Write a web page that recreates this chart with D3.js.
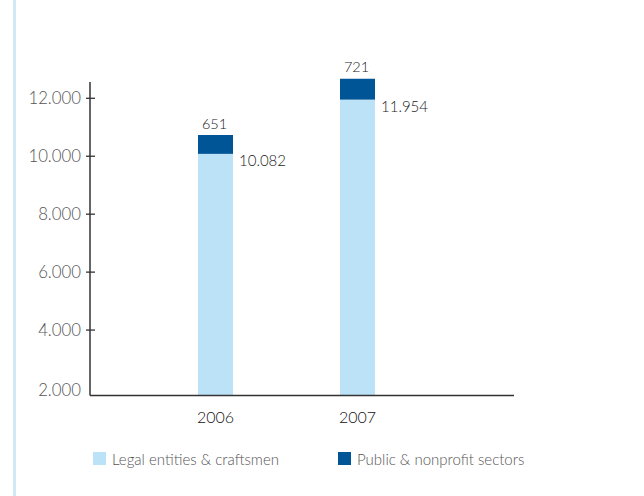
<!DOCTYPE html>
<html>
<head>
<meta charset="utf-8">
<script src="https://cdn.jsdelivr.net/npm/d3@7"></script>
<style>
  html, body { margin: 0; padding: 0; background: #fff; }
  svg { display: block; font-family: Lato, "Open Sans", sans-serif; }
</style>
</head>
<body>
<div id="chart"></div>
<script>
const years = ["2006", "2007"];
const legalEntities = [10082, 11954];
const publicSectors = [651, 721];
const yTicks = [2000, 4000, 6000, 8000, 10000, 12000];
const seriesNames = ["Legal entities & craftsmen", "Public & nonprofit sectors"];

const W = 644, H = 496;
const LIGHT = "#bce2f7", DARK = "#005596";

const svg = d3.select("#chart").append("svg").attr("width", W).attr("height", H);

// decorative rule on the left edge
svg.append("rect").attr("x", 13).attr("y", 0).attr("width", 3).attr("height", H).attr("fill", "#d3e8f7");

// ── Scales ────────────────────────────────────────────────────────────────
const y = d3.scaleLinear().domain([2000, 12000]).range([388, 98.3]);
const x = d3.scalePoint().domain(years).range([215.5, 357.5]);
const AXIS_X = 90, AXIS_RIGHT = 514, BASE_Y = 395.5, AXIS_TOP = 82;
const BAR_W = 35;

const fmt = (v) => d3.format(",")(v).replace(/,/g, ".");

// ── Y axis ────────────────────────────────────────────────────────────────
const yAxis = svg.append("g");
yAxis.append("line")
  .attr("x1", AXIS_X).attr("x2", AXIS_X).attr("y1", AXIS_TOP).attr("y2", BASE_Y)
  .attr("stroke", "#333").attr("stroke-width", 1.5);
yAxis.selectAll("line.tick")
  .data(yTicks.filter((t) => t > 2000))
  .join("line")
  .attr("class", "tick")
  .attr("x1", AXIS_X - 4).attr("x2", AXIS_X + 5)
  .attr("y1", (d) => y(d)).attr("y2", (d) => y(d))
  .attr("stroke", "#333").attr("stroke-width", 1.3);
yAxis.selectAll("text")
  .data(yTicks)
  .join("text")
  .attr("x", 81)
  .attr("y", (d) => y(d) + (d === 2000 ? 2 : 0))
  .attr("dy", "0.36em")
  .attr("text-anchor", "end")
  .attr("font-size", 16.8)
  .attr("font-weight", 300)
  .attr("fill", "#555")
  .text(fmt);

// ── Bars ──────────────────────────────────────────────────────────────────
const bars = svg.append("g").selectAll("g").data(years).join("g");
bars.append("rect")
  .attr("x", (d) => x(d) - BAR_W / 2)
  .attr("width", BAR_W)
  .attr("y", (d, i) => y(legalEntities[i]))
  .attr("height", (d, i) => BASE_Y - y(legalEntities[i]))
  .attr("fill", LIGHT);
bars.append("rect")
  .attr("x", (d) => x(d) - BAR_W / 2)
  .attr("width", BAR_W)
  .attr("y", (d, i) => y(legalEntities[i] + publicSectors[i]))
  .attr("height", (d, i) => y(legalEntities[i]) - y(legalEntities[i] + publicSectors[i]))
  .attr("fill", DARK);

// value labels
bars.append("text")
  .attr("x", (d) => x(d) - 1)
  .attr("y", (d, i) => y(legalEntities[i] + publicSectors[i]) - 6.5)
  .attr("text-anchor", "middle")
  .attr("font-size", 14.5)
  .attr("font-weight", 300)
  .attr("fill", "#1a1a1a")
  .text((d, i) => publicSectors[i]);
bars.append("text")
  .attr("x", (d) => x(d) + BAR_W / 2 + 6)
  .attr("y", (d, i) => y(legalEntities[i]) + 12.5)
  .attr("font-size", 15)
  .attr("font-weight", 300)
  .attr("fill", "#1a1a1a")
  .text((d, i) => fmt(legalEntities[i]));

// ── X axis ────────────────────────────────────────────────────────────────
svg.append("line")
  .attr("x1", AXIS_X).attr("x2", AXIS_RIGHT).attr("y1", BASE_Y).attr("y2", BASE_Y)
  .attr("stroke", "#333").attr("stroke-width", 1.5);
svg.append("g").selectAll("text").data(years).join("text")
  .attr("x", (d) => x(d))
  .attr("y", 422.5)
  .attr("text-anchor", "middle")
  .attr("font-size", 16)
  .attr("font-weight", 300)
  .attr("fill", "#111")
  .text((d) => d);

// ── Legend ────────────────────────────────────────────────────────────────
const legend = svg.append("g").selectAll("g")
  .data(seriesNames)
  .join("g")
  .attr("transform", (d, i) => `translate(${i === 0 ? 93 : 338},452)`);
legend.append("rect").attr("width", 13).attr("height", 13)
  .attr("fill", (d, i) => (i === 0 ? LIGHT : DARK));
legend.append("text")
  .attr("x", 19).attr("y", 12.5)
  .attr("font-size", 15)
  .attr("font-weight", 300)
  .attr("fill", "#555")
  .text((d) => d);
</script>
</body>
</html>
